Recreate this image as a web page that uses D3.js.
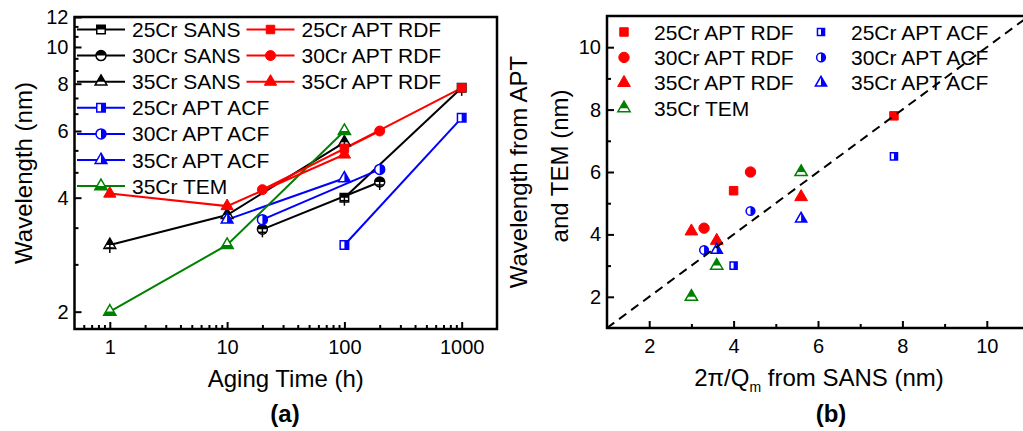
<!DOCTYPE html>
<html>
<head>
<meta charset="utf-8">
<script src="https://cdn.jsdelivr.net/npm/d3@7"></script>
<style>
    body { margin: 0; background: #fff; }
    svg text { font-family: Arial, "Liberation Sans", sans-serif; fill: #000; }
</style>
</head>
<body>
<div id="chart"></div>
<script>
// panel (a): aging time (h) and wavelength (nm)
const sans25Time = [100, 1000];
const sans25 = [4.0, 7.8];
const sans30Time = [20, 200];
const sans30 = [3.3, 4.4];
const sans35Time = [1, 10, 100];
const sans35 = [3.0, 3.6, 5.6];

const rdf25Time = [100, 1000];
const rdf25 = [5.4, 7.8];
const rdf30Time = [20, 200];
const rdf30 = [4.2, 6.0];
const rdf35Time = [1, 10, 100];
const rdf35 = [4.1, 3.8, 5.2];

const acf25Time = [100, 1000];
const acf25 = [3.0, 6.5];
const acf30Time = [20, 200];
const acf30 = [3.5, 4.75];
const acf35Time = [10, 100];
const acf35 = [3.5, 4.5];

const tem35Time = [1, 10, 100];
const tem35 = [2.0, 3.0, 6.0];

const timeTicks = [1, 10, 100, 1000];
const waveTicks = [2, 4, 6, 8, 10, 12];
const sansTicks = [2, 4, 6, 8, 10];

const RED = "#ff0000", BLUE = "#0000ff", GREEN = "#008000", BLACK = "#000";

let svg = d3.select("#chart").append("svg")
    .attr("width", 1023)
    .attr("height", 431);

// clip paths for half filled markers (triangles split lower down so the halves look even)
let defs = svg.append("defs");
[["top", 0, 0, 1, 0.5], ["bottom", 0, 0.5, 1, 0.5], ["right", 0.5, 0, 0.5, 1],
 ["top-tri", 0, 0, 1, 0.66], ["bottom-tri", 0, 0.66, 1, 0.34]].forEach(h => {
    defs.append("clipPath")
        .attr("id", "half-" + h[0])
        .attr("clipPathUnits", "objectBoundingBox")
        .append("rect")
        .attr("x", h[1]).attr("y", h[2]).attr("width", h[3]).attr("height", h[4]);
});

function drawMarker(g, x, y, s) {
    let sym = d3.symbol().type(s.shape).size(s.size)();
    let m = g.append("g").attr("transform", `translate(${x},${y})`);
    if (s.fill === "full") {
        m.append("path").attr("d", sym).attr("fill", s.color).attr("stroke", s.color).attr("stroke-width", 1);
        return;
    }
    m.append("path").attr("d", sym).attr("fill", "white").attr("stroke", s.color).attr("stroke-width", 1.5);
    if (s.fill !== "open") {
        let clip = s.fill;
        if (s.shape === d3.symbolTriangle && clip !== "right") clip += "-tri";
        m.append("path").attr("d", sym).attr("fill", s.color)
            .attr("clip-path", `url(#half-${clip})`);
    }
    if (s.errbar) {
        m.append("line").attr("x1", 0).attr("x2", 0).attr("y1", -1).attr("y2", 8)
            .attr("stroke", s.color).attr("stroke-width", 1.5);
        m.append("line").attr("x1", -4).attr("x2", 4).attr("y1", 3).attr("y2", 3)
            .attr("stroke", s.color).attr("stroke-width", 1.5);
    }
}

function styleAxis(g) {
    g.select(".domain").remove();
    g.attr("font-size", 20).attr("font-family", "Arial, 'Liberation Sans', sans-serif");
    g.selectAll("line").attr("stroke-width", 2);
}

class AgingPlot {
    constructor(svg, series) {
        this.svg = svg;
        this.series = series;
        this.initVis();
    }

    initVis() {
        let vis = this;
        vis.left = 74.5; vis.right = 497; vis.top = 17; vis.bottom = 329;

        vis.x = d3.scaleLog().domain([0.5, 2000]).range([vis.left, vis.right]);
        vis.y = d3.scaleLog().domain([1.8, 12]).range([vis.bottom, vis.top]);

        let minorX = [];
        [0.1, 1, 10, 100, 1000].forEach(dec => {
            for (let k = 2; k <= 9; k++) {
                let v = dec * k;
                if (v > 0.5 && v < 2000 && !timeTicks.includes(v)) minorX.push(v);
            }
        });
        let minorY = [];
        for (let i = 0; i < waveTicks.length - 1; i++) {
            minorY.push(waveTicks[i] + 2 / 3, waveTicks[i] + 4 / 3);
        }

        vis.svg.append("g")
            .attr("transform", `translate(0,${vis.bottom})`)
            .call(d3.axisBottom(vis.x).tickValues(minorX).tickFormat("").tickSize(-4))
            .call(styleAxis);
        vis.svg.append("g")
            .attr("transform", `translate(0,${vis.bottom})`)
            .call(d3.axisBottom(vis.x).tickValues(timeTicks).tickFormat(d3.format("d")).tickSize(-7).tickPadding(11))
            .call(styleAxis);
        vis.svg.append("g")
            .attr("transform", `translate(${vis.left},0)`)
            .call(d3.axisLeft(vis.y).tickValues(minorY).tickFormat("").tickSize(-4))
            .call(styleAxis);
        vis.svg.append("g")
            .attr("transform", `translate(${vis.left},0)`)
            .call(d3.axisLeft(vis.y).tickValues(waveTicks).tickFormat(d3.format("d")).tickSize(-7).tickPadding(6))
            .call(styleAxis);

        vis.svg.append("rect")
            .attr("x", vis.left).attr("y", vis.top)
            .attr("width", vis.right - vis.left).attr("height", vis.bottom - vis.top)
            .attr("fill", "none").attr("stroke", BLACK).attr("stroke-width", 2.5);

        vis.svg.append("text")
            .attr("x", (vis.left + vis.right) / 2).attr("y", 387)
            .attr("text-anchor", "middle").attr("font-size", 24)
            .text("Aging Time (h)");
        vis.svg.append("text")
            .attr("transform", "translate(32,173) rotate(-90)")
            .attr("text-anchor", "middle").attr("font-size", 24)
            .text("Wavelength (nm)");
        vis.svg.append("text")
            .attr("x", 285).attr("y", 422)
            .attr("text-anchor", "middle").attr("font-size", 24).attr("font-weight", "bold")
            .text("(a)");

        vis.updateVis();
    }

    updateVis() {
        let vis = this;
        let line = d3.line().x(d => vis.x(d[0])).y(d => vis.y(d[1]));

        vis.series.forEach(s => {
            let pts = s.times.map((t, i) => [t, s.values[i]]);
            vis.svg.append("path")
                .attr("d", line(pts))
                .attr("fill", "none").attr("stroke", s.color).attr("stroke-width", 2);
        });
        vis.series.forEach(s => {
            s.times.forEach((t, i) => drawMarker(vis.svg, vis.x(t), vis.y(s.values[i]), s));
        });

        // legend
        let rowH = 26.1;
        vis.series.forEach(s => {
            let lx = s.legendCol === 0 ? 77 : 246.5;
            let ly = 29.5 + s.legendRow * rowH;
            vis.svg.append("line")
                .attr("x1", lx).attr("x2", lx + 48).attr("y1", ly).attr("y2", ly)
                .attr("stroke", s.color).attr("stroke-width", 2);
            drawMarker(vis.svg, lx + 24, ly, Object.assign({}, s, {errbar: false}));
            vis.svg.append("text")
                .attr("x", lx + 55).attr("y", ly + 7.5)
                .attr("font-size", 21)
                .text(s.name);
        });
    }
}

class ComparePlot {
    constructor(svg, series) {
        this.svg = svg;
        this.series = series;
        this.initVis();
    }

    initVis() {
        let vis = this;
        vis.left = 607; vis.right = 1029; vis.top = 16; vis.bottom = 328;

        vis.x = d3.scaleLinear().domain([1, 11]).range([vis.left, vis.right]);
        vis.y = d3.scaleLinear().domain([1, 11]).range([vis.bottom, vis.top]);
        let minor = [3, 5, 7, 9];

        vis.svg.append("g")
            .attr("transform", `translate(0,${vis.bottom})`)
            .call(d3.axisBottom(vis.x).tickValues(minor).tickFormat("").tickSize(-4))
            .call(styleAxis);
        vis.svg.append("g")
            .attr("transform", `translate(0,${vis.bottom})`)
            .call(d3.axisBottom(vis.x).tickValues(sansTicks).tickFormat(d3.format("d")).tickSize(-7).tickPadding(11))
            .call(styleAxis);
        vis.svg.append("g")
            .attr("transform", `translate(${vis.left},0)`)
            .call(d3.axisLeft(vis.y).tickValues(minor).tickFormat("").tickSize(-4))
            .call(styleAxis);
        vis.svg.append("g")
            .attr("transform", `translate(${vis.left},0)`)
            .call(d3.axisLeft(vis.y).tickValues(sansTicks).tickFormat(d3.format("d")).tickSize(-7).tickPadding(6))
            .call(styleAxis);

        vis.svg.append("rect")
            .attr("x", vis.left).attr("y", vis.top)
            .attr("width", vis.right - vis.left).attr("height", vis.bottom - vis.top)
            .attr("fill", "none").attr("stroke", BLACK).attr("stroke-width", 2.5);

        let xt = vis.svg.append("text")
            .attr("x", 819).attr("y", 386)
            .attr("text-anchor", "middle").attr("font-size", 24);
        xt.append("tspan").text("2\u03c0/Q");
        xt.append("tspan").attr("font-size", 14).attr("dy", 6).text("m");
        xt.append("tspan").attr("dy", -6).text(" from SANS (nm)");

        vis.svg.append("text")
            .attr("transform", "translate(527,172) rotate(-90)")
            .attr("text-anchor", "middle").attr("font-size", 24)
            .text("Wavelength from APT");
        vis.svg.append("text")
            .attr("transform", "translate(568,166) rotate(-90)")
            .attr("text-anchor", "middle").attr("font-size", 24)
            .text("and TEM (nm)");
        vis.svg.append("text")
            .attr("x", 831).attr("y", 422)
            .attr("text-anchor", "middle").attr("font-size", 24).attr("font-weight", "bold")
            .text("(b)");

        vis.updateVis();
    }

    updateVis() {
        let vis = this;
        vis.series.forEach(s => {
            s.points.forEach(p => drawMarker(vis.svg, vis.x(p[0]), vis.y(p[1]), s));
        });

        vis.series.forEach(s => {
            let lx = s.legendCol === 0 ? 624 : 821;
            let ly = 32 + s.legendRow * 25.4;
            drawMarker(vis.svg, lx, ly, s);
            vis.svg.append("text")
                .attr("x", lx + 30).attr("y", ly + 7.5)
                .attr("font-size", 21)
                .text(s.name);
        });

        // 1:1 reference line
        vis.svg.append("line")
            .attr("x1", vis.x(1)).attr("y1", vis.y(1))
            .attr("x2", vis.x(11)).attr("y2", vis.y(11))
            .attr("stroke", BLACK).attr("stroke-width", 2)
            .attr("stroke-dasharray", "9,6");
    }
}

let agingSeries = [
    {name: "25Cr SANS", times: sans25Time, values: sans25, color: BLACK, shape: d3.symbolSquare, size: 72, fill: "top", errbar: true, legendCol: 0, legendRow: 0},
    {name: "30Cr SANS", times: sans30Time, values: sans30, color: BLACK, shape: d3.symbolCircle, size: 78, fill: "top", errbar: true, legendCol: 0, legendRow: 1},
    {name: "35Cr SANS", times: sans35Time, values: sans35, color: BLACK, shape: d3.symbolTriangle, size: 60, fill: "top", errbar: true, legendCol: 0, legendRow: 2},
    {name: "25Cr APT ACF", times: acf25Time, values: acf25, color: BLUE, shape: d3.symbolSquare, size: 72, fill: "right", legendCol: 0, legendRow: 3},
    {name: "30Cr APT ACF", times: acf30Time, values: acf30, color: BLUE, shape: d3.symbolCircle, size: 78, fill: "right", legendCol: 0, legendRow: 4},
    {name: "35Cr APT ACF", times: acf35Time, values: acf35, color: BLUE, shape: d3.symbolTriangle, size: 60, fill: "right", legendCol: 0, legendRow: 5},
    {name: "35Cr TEM", times: tem35Time, values: tem35, color: GREEN, shape: d3.symbolTriangle, size: 65, fill: "bottom", legendCol: 0, legendRow: 6},
    {name: "25Cr APT RDF", times: rdf25Time, values: rdf25, color: RED, shape: d3.symbolSquare, size: 72, fill: "full", legendCol: 1, legendRow: 0},
    {name: "30Cr APT RDF", times: rdf30Time, values: rdf30, color: RED, shape: d3.symbolCircle, size: 78, fill: "full", legendCol: 1, legendRow: 1},
    {name: "35Cr APT RDF", times: rdf35Time, values: rdf35, color: RED, shape: d3.symbolTriangle, size: 65, fill: "full", legendCol: 1, legendRow: 2}
];

// pair each APT / TEM value with the SANS value at the same aging time
function pairWithSans(times, values, sansTime, sansVals) {
    return times.map((t, i) => [sansVals[sansTime.indexOf(t)], values[i]]);
}

let compareSeries = [
    {name: "25Cr APT RDF", points: pairWithSans(rdf25Time, rdf25, sans25Time, sans25), color: RED, shape: d3.symbolSquare, size: 72, fill: "full", legendCol: 0, legendRow: 0},
    {name: "30Cr APT RDF", points: pairWithSans(rdf30Time, rdf30, sans30Time, sans30), color: RED, shape: d3.symbolCircle, size: 85, fill: "full", legendCol: 0, legendRow: 1},
    {name: "35Cr APT RDF", points: pairWithSans(rdf35Time, rdf35, sans35Time, sans35), color: RED, shape: d3.symbolTriangle, size: 70, fill: "full", legendCol: 0, legendRow: 2},
    {name: "35Cr TEM", points: pairWithSans(tem35Time, tem35, sans35Time, sans35), color: GREEN, shape: d3.symbolTriangle, size: 65, fill: "top", legendCol: 0, legendRow: 3},
    {name: "25Cr APT ACF", points: pairWithSans(acf25Time, acf25, sans25Time, sans25), color: BLUE, shape: d3.symbolSquare, size: 50, fill: "right", legendCol: 1, legendRow: 0},
    {name: "30Cr APT ACF", points: pairWithSans(acf30Time, acf30, sans30Time, sans30), color: BLUE, shape: d3.symbolCircle, size: 60, fill: "right", legendCol: 1, legendRow: 1},
    {name: "35Cr APT ACF", points: pairWithSans(acf35Time, acf35, sans35Time, sans35), color: BLUE, shape: d3.symbolTriangle, size: 55, fill: "right", legendCol: 1, legendRow: 2}
];

new AgingPlot(svg.append("g"), agingSeries);
new ComparePlot(svg.append("g"), compareSeries);
</script>
</body>
</html>
